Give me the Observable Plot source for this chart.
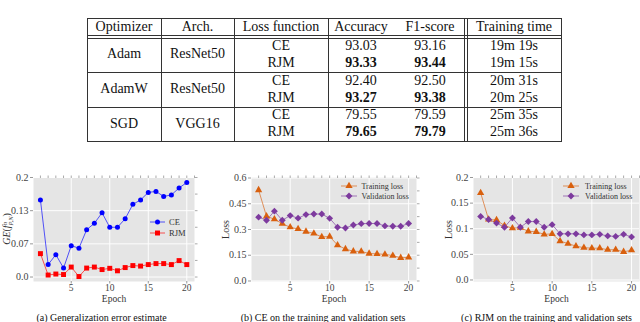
<!DOCTYPE html>
<html><head><meta charset="utf-8">
<script src="https://cdn.jsdelivr.net/npm/d3@7"></script>
<script src="https://cdn.jsdelivr.net/npm/@observablehq/plot@0.6"></script>
<style>
html,body{margin:0;padding:0;background:#fff;}
body{width:640px;height:322px;overflow:hidden;position:relative;font-family:"Liberation Serif","Tinos","Times New Roman","Noto Serif","DejaVu Serif",serif;}
#root{position:absolute;left:0;top:0;width:640px;height:322px;}
.hl{position:absolute;height:1px;background:#333;}
.vl{position:absolute;width:1px;background:#333;}
.cell{position:absolute;transform:translate(-50%,-50%);white-space:nowrap;font-size:14px;color:#111;line-height:1;}
.cap{position:absolute;transform:translate(-50%,-50%);white-space:nowrap;font-size:10px;color:#111;line-height:1;}
svg.chart{position:absolute;overflow:visible;}
</style></head><body>
<div id="root"></div>
<script>
// ---------------- data ----------------
const tableHeaders = ["Optimizer", "Arch.", "Loss function", "Accuracy", "F1-score", "Training time"];
const optimizers = ["Adam", "AdamW", "SGD"];
const archs = ["ResNet50", "ResNet50", "VGG16"];
const lossFns = ["CE", "RJM"];
const accuracy = [93.03, 93.33, 92.40, 93.27, 79.55, 79.65];
const f1score = [93.16, 93.44, 92.50, 93.38, 79.59, 79.79];
const trainingTime = ["19m 19s", "19m 15s", "20m 31s", "20m 25s", "25m 35s", "25m 36s"];

const epochs = [1, 2, 3, 4, 5, 6, 7, 8, 9, 10, 11, 12, 13, 14, 15, 16, 17, 18, 19, 20];
const epochTicks = [5, 10, 15, 20];

// (a) generalization error estimate
const geCE = [0.155, 0.025, 0.045, 0.018, 0.063, 0.058, 0.095, 0.108, 0.129, 0.100, 0.100, 0.117, 0.146, 0.155, 0.170, 0.172, 0.162, 0.165, 0.179, 0.190];
const geRJM = [0.047, 0.004, 0.006, 0.005, 0.020, 0.001, 0.018, 0.020, 0.015, 0.0175, 0.0125, 0.019, 0.023, 0.022, 0.025, 0.027, 0.027, 0.025, 0.033, 0.025];
const aTicks = [0, 0.2 / 3, 0.4 / 3, 0.2];
const aTickLabels = ["0.0", "0.07", "0.13", "0.2"];

// (b) CE losses
const ceTrain = [0.530, 0.377, 0.360, 0.334, 0.313, 0.303, 0.288, 0.277, 0.257, 0.259, 0.209, 0.186, 0.173, 0.172, 0.160, 0.158, 0.155, 0.148, 0.135, 0.138];
const ceVal = [0.372, 0.354, 0.407, 0.354, 0.381, 0.366, 0.387, 0.390, 0.390, 0.365, 0.313, 0.309, 0.326, 0.334, 0.335, 0.335, 0.321, 0.319, 0.319, 0.335];
const bTicks = [0, 0.15, 0.3, 0.45, 0.6];
const bTickLabels = ["0.0", "0.15", "0.3", "0.45", "0.6"];

// (c) RJM losses
const rjmTrain = [0.170, 0.118, 0.117, 0.106, 0.101, 0.102, 0.095, 0.094, 0.089, 0.090, 0.076, 0.071, 0.066, 0.063, 0.062, 0.062, 0.059, 0.059, 0.055, 0.058];
const rjmVal = [0.124, 0.118, 0.111, 0.103, 0.121, 0.103, 0.114, 0.114, 0.103, 0.108, 0.090, 0.090, 0.090, 0.088, 0.088, 0.089, 0.086, 0.085, 0.089, 0.084];
const cTicks = [0, 0.05, 0.1, 0.15, 0.2];
const cTickLabels = ["0.0", "0.05", "0.1", "0.15", "0.2"];

const captions = ["(a) Generalization error estimate", "(b) CE on the training and validation sets", "(c) RJM on the training and validation sets"];

// ---------------- table ----------------
const root = document.getElementById("root");
function el(cls, styles, text) {
  const d = document.createElement("div");
  d.className = cls;
  Object.assign(d.style, styles);
  if (text != null) d.textContent = text;
  root.appendChild(d);
  return d;
}
const colLines = [87, 161, 234, 328, 464, 467, 561];
const rowLines = [18, 35, 38, 72, 107, 141];
const colCenters = [124, 197.5, 281, 361, 430, 514];
const headerY = 26.5;
const rowY = [45.5, 62.5, 80.5, 97.5, 115, 132];
rowLines.forEach(y => el("hl", {left: colLines[0] + "px", top: y + "px", width: (colLines[colLines.length - 1] - colLines[0] + 1) + "px"}));
colLines.forEach(x => el("vl", {left: x + "px", top: rowLines[0] + "px", height: (rowLines[rowLines.length - 1] - rowLines[0] + 1) + "px"}));
tableHeaders.forEach((h, i) => el("cell", {left: colCenters[i] + "px", top: headerY + "px"}, h));
optimizers.forEach((opt, g) => {
  const ym = (rowY[2 * g] + rowY[2 * g + 1]) / 2;
  el("cell", {left: colCenters[0] + "px", top: ym + "px"}, opt);
  el("cell", {left: colCenters[1] + "px", top: ym + "px"}, archs[g]);
  lossFns.forEach((lf, r) => {
    const k = 2 * g + r, y = rowY[k] + "px";
    const other = 2 * g + (1 - r);
    el("cell", {left: colCenters[2] + "px", top: y}, lf);
    el("cell", {left: colCenters[3] + "px", top: y, fontWeight: accuracy[k] > accuracy[other] ? "bold" : "normal"}, accuracy[k].toFixed(2));
    el("cell", {left: colCenters[4] + "px", top: y, fontWeight: f1score[k] > f1score[other] ? "bold" : "normal"}, f1score[k].toFixed(2));
    el("cell", {left: colCenters[5] + "px", top: y}, trainingTime[k]);
  });
});

// ---------------- charts ----------------
const FONT = '"Liberation Serif","Tinos","Times New Roman","Noto Serif","DejaVu Serif",serif';
const xMinor = epochs.concat([21]);
function rows(vals) { return epochs.map((e, i) => ({epoch: e, value: vals[i]})); }

function buildChart(o) {
  const labelOf = new Map(o.yTicks.map((t, i) => [t, o.yTickLabels[i]]));
  const marks = [
    Plot.frame({fill: "#e5e5e5", stroke: null}),
    Plot.gridY(o.yTicks, {stroke: "#fff", strokeOpacity: 0.95, strokeWidth: 1}),
    Plot.gridX(epochTicks, {stroke: "#fff", strokeOpacity: 0.95, strokeWidth: 1}),
    Plot.axisY(o.yTicks, {anchor: "left", tickSize: 3, tickPadding: 2, stroke: "#999", color: "#444", tickFormat: d => labelOf.get(d), label: null, fontSize: 10}),
    Plot.axisX(epochTicks, {anchor: "bottom", tickSize: 2.5, tickPadding: 0, stroke: "#999", color: "#444", tickFormat: d => String(d), label: null, fontSize: 9.5}),
    Plot.axisY(o.yMinor, {anchor: "right", tickSize: 2.5, stroke: "#aaa", tickFormat: () => "", label: null}),
    Plot.axisX(xMinor, {anchor: "top", tickSize: 2.5, stroke: "#aaa", tickFormat: () => "", label: null}),
    Plot.text(["Epoch"], {frameAnchor: "bottom", lineAnchor: "middle", textAnchor: "middle", dy: 17.5, fill: "#333", fontSize: 9.5})
  ];
  if (o.yLabel) marks.push(Plot.text([o.yLabel], {frameAnchor: "left", textAnchor: "middle", lineAnchor: "middle", dx: o.yLabelDx, rotate: -90, fill: "#333", fontSize: 10}));
  o.series.forEach(s => {
    marks.push(Plot.line(rows(s.values), {x: "epoch", y: "value", stroke: s.color, strokeWidth: 1, strokeOpacity: 0.65}));
  });
  o.series.forEach(s => {
    marks.push(Plot.dot(rows(s.values), {x: "epoch", y: "value", symbol: s.symbol, r: s.r, fill: s.color, stroke: "none"}));
  });
  const svg = Plot.plot({
    width: o.width, height: 136,
    marginLeft: o.mL, marginRight: o.mR, marginTop: 9, marginBottom: 23,
    x: {domain: [0.1, 21]},
    y: {domain: o.yDomain},
    style: {fontFamily: FONT, fontSize: "10px", background: "transparent", overflow: "visible"},
    marks
  });
  svg.classList.add("chart");
  svg.style.left = o.left + "px";
  svg.style.top = "168px";
  root.appendChild(svg);
  // legend
  const g = d3.select(svg).append("g").attr("text-anchor", "start");
  o.series.forEach((s, i) => {
    const y = o.legend.ys[i];
    g.append("line").attr("x1", o.legend.x0).attr("x2", o.legend.x1).attr("y1", y).attr("y2", y)
      .attr("stroke", s.color).attr("stroke-opacity", 0.65);
    g.append("path").attr("d", d3.symbol(s.symbol, Math.PI * s.r * s.r)())
      .attr("transform", `translate(${(o.legend.x0 + o.legend.x1) / 2},${y})`).attr("fill", s.color);
    g.append("text").attr("x", o.legend.tx).attr("y", y).attr("dy", "0.35em").attr("text-anchor", "start")
      .attr("font-size", o.legend.fs).attr("fill", "#333").style("font-family", FONT).text(s.label);
  });
  return svg;
}

const minorA = [0, 1, 2, 3, 4, 5, 6].map(i => i * 0.2 / 6);
const minorB = [0, 0.075, 0.15, 0.225, 0.3, 0.375, 0.45, 0.525, 0.6];
const minorC = [0, 0.025, 0.05, 0.075, 0.1, 0.125, 0.15, 0.175, 0.2];

const BLUE = "#0000ff", RED = "#ff0000", ORANGE = "#d9600e", PURPLE = "#7d3a9e";

const svgA = buildChart({
  left: 0, width: 200, mL: 33, mR: 6, yDomain: [-0.009, 0.2],
  yTicks: aTicks, yTickLabels: aTickLabels, yMinor: minorA,
  series: [
    {label: "CE", values: geCE, color: BLUE, symbol: d3.symbolCircle, r: 2.5},
    {label: "RJM", values: geRJM, color: RED, symbol: d3.symbolSquare, r: 2.8}
  ],
  legend: {x0: 150, x1: 165, tx: 169, ys: [54, 65], fs: 8.5}
});
// y label with sub/superscripts for chart (a)
{
  const t = d3.select(svgA).append("text")
    .attr("transform", "translate(10,61) rotate(-90)")
    .attr("text-anchor", "middle").style("font-family", FONT).attr("font-size", 10).attr("fill", "#333");
  t.append("tspan").attr("font-style", "italic").text("GE");
  t.append("tspan").text("(");
  t.append("tspan").attr("font-style", "italic").text("f");
  t.append("tspan").attr("font-size", 6.5).attr("font-style", "italic").attr("dy", -3.5).text("n");
  t.append("tspan").attr("font-size", 6.5).attr("font-style", "italic").attr("dx", -3.5).attr("dy", 6).text("P,N");
  t.append("tspan").attr("dy", -2.5).text(")");
}

buildChart({
  left: 210, width: 210, mL: 41, mR: 4, yDomain: [-0.003, 0.603],
  yTicks: bTicks, yTickLabels: bTickLabels, yMinor: minorB,
  yLabel: "Loss", yLabelDx: -26,
  series: [
    {label: "Training loss", values: ceTrain, color: ORANGE, symbol: d3.symbolTriangle, r: 2.7},
    {label: "Validation loss", values: ceVal, color: PURPLE, symbol: d3.symbolDiamond2, r: 3.1}
  ],
  legend: {x0: 131, x1: 147, tx: 151.5, ys: [18, 28], fs: 8}
});

buildChart({
  left: 430, width: 210, mL: 43, mR: 1, yDomain: [-0.003, 0.2],
  yTicks: cTicks, yTickLabels: cTickLabels, yMinor: minorC,
  yLabel: "Loss", yLabelDx: -25,
  series: [
    {label: "Training loss", values: rjmTrain, color: ORANGE, symbol: d3.symbolTriangle, r: 2.7},
    {label: "Validation loss", values: rjmVal, color: PURPLE, symbol: d3.symbolDiamond2, r: 3.1}
  ],
  legend: {x0: 133, x1: 149, tx: 155, ys: [18, 28], fs: 8}
});

// captions
const capX = [101.5, 323, 546.5];
captions.forEach((c, i) => el("cap", {left: capX[i] + "px", top: "318px"}, c));
</script>
</body></html>
